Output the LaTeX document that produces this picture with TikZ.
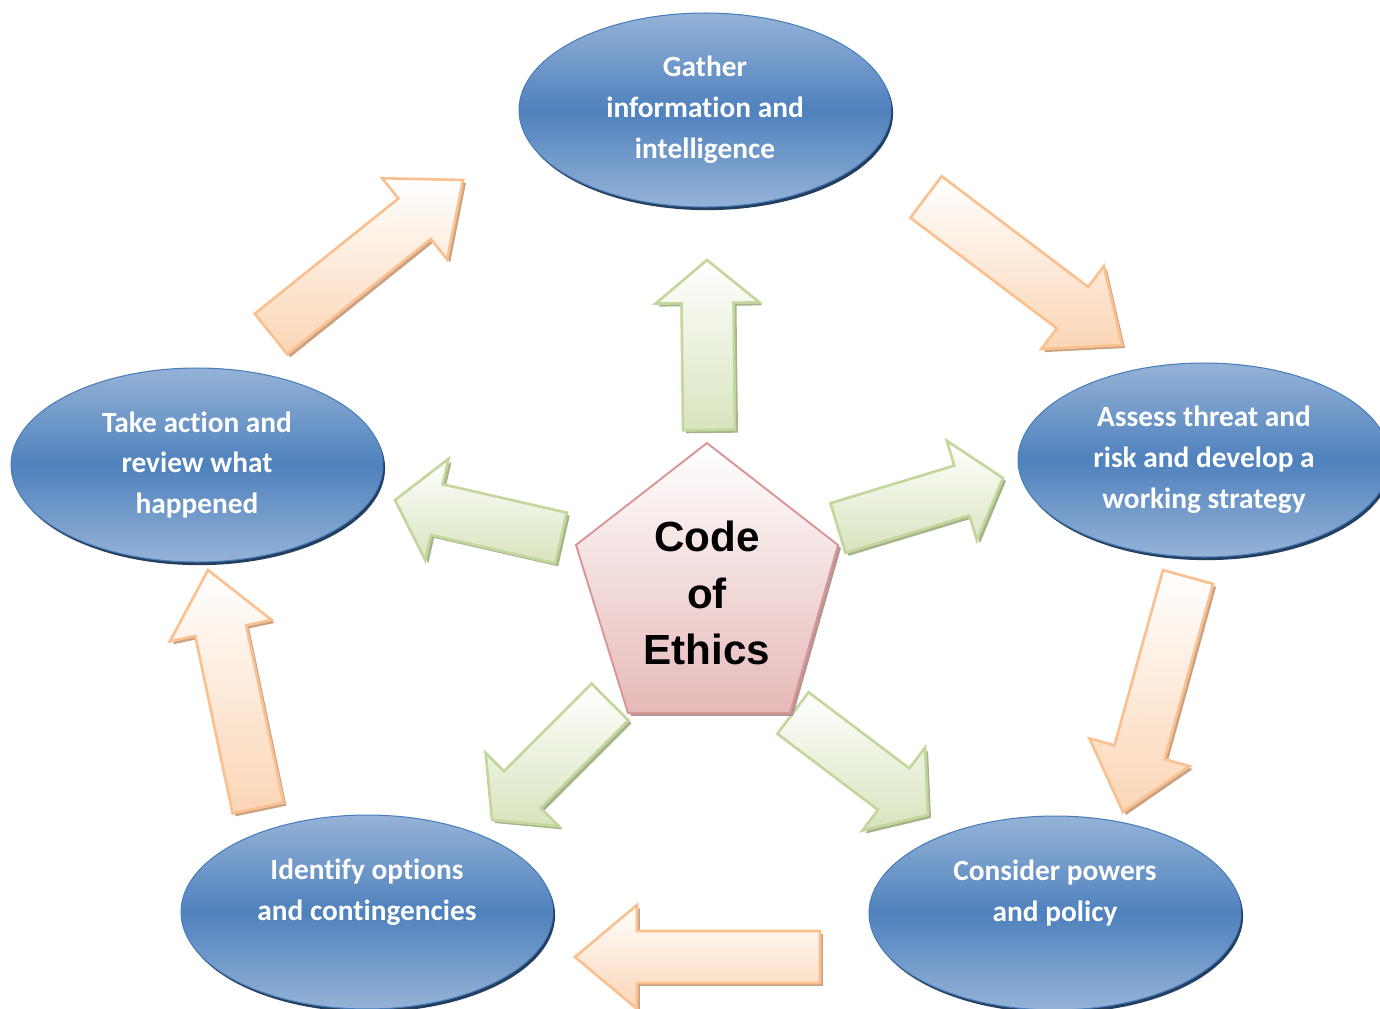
\documentclass[tikz,border=0pt]{standalone}
\usepackage{fontspec}
\newfontfamily\stagefont{Carlito}[Ligatures=NoCommon]
\newfontfamily\codefont{Liberation Sans}
\usetikzlibrary{shapes.geometric,shadows,calc}

\definecolor{stageblue}{HTML}{4F81BD}
\definecolor{stagelight}{HTML}{95B3D7}
\definecolor{stageedge}{HTML}{4A7EBB}
\definecolor{stageshade}{HTML}{243F60}
\definecolor{codepink}{HTML}{E6B9B8}
\definecolor{codeedge}{HTML}{D99694}
\definecolor{codeshade}{HTML}{B59696}
\definecolor{grnfill}{HTML}{D7E4BD}
\definecolor{grnedge}{HTML}{C3D69B}
\definecolor{grnshade}{HTML}{A4B38C}
\definecolor{orgfill}{HTML}{FBD5B5}
\definecolor{orgedge}{HTML}{FAC090}
\definecolor{orgshade}{HTML}{C9A283}
\def\pxl{0.02cm}

\begin{document}
\begin{tikzpicture}[x=0.02cm, y=-0.02cm,
  stagetext/.style={text=white, align=center, font=\stagefont\bfseries\fontsize{16.7}{23.3}\selectfont},
  stage/.style={ellipse, minimum width=7.44cm, minimum height=3.88cm, inner sep=0pt, stagetext,
    draw=stageedge, line width=0.6pt, top color=stagelight, bottom color=stagelight, middle color=stageblue,
    drop shadow={fill=stageshade, opacity=1, shadow xshift=1.2pt, shadow yshift=-1.8pt}},
  grnarrow/.style={draw=grnedge, line width=1.5pt, top color=white, bottom color=grnfill,
    drop shadow={fill=grnshade, opacity=1, shadow xshift=1.7pt, shadow yshift=-1.7pt}},
  orgarrow/.style={draw=orgedge, line width=1.5pt, top color=white, bottom color=orgfill,
    drop shadow={fill=orgshade, opacity=1, shadow xshift=1.7pt, shadow yshift=-1.7pt}},
  codebox/.style={draw=codeedge, line width=1.1pt, top color=white, bottom color=codepink,
    drop shadow={fill=codeshade, opacity=1, shadow xshift=1.7pt, shadow yshift=-1.7pt}}]
\useasboundingbox (0,0) rectangle (1380,1008);
\clip (0,0) rectangle (1380,1008);

% the five stages
\node[stage] (gather) at (705,110) {Gather\\information and\\intelligence};
\node[stage] (assess) at (1204,460) {Assess threat and\\risk and develop a\\working strategy};
\node[stage] (consider) at (1055,913) {};
\node[stagetext] at ([yshift=0.40cm]consider.center) {Consider powers\\and policy};
\node[stage] (identify) at (367,912) {};
\node[stagetext] at ([yshift=0.40cm]identify.center) {Identify options\\and contingencies};
\node[stage] (review) at (197,465) {Take action and\\review what\\happened};

% cycle arrows
\foreach \sx/\sy/\ex/\ey in {271/334/463/180, 926/197/1122/345, 1188/577/1123/812, 820/957/575/957, 258/808/208/570}{
  \coordinate (tail) at (\sx,\sy);
  \coordinate (tip) at (\ex,\ey);
  \coordinate (neck) at ($(tip)!62*\pxl!(tail)$);
  \path[orgarrow] ($(tail)!26*\pxl!90:(tip)$) -- ($(neck)!26*\pxl!90:(tip)$) -- ($(neck)!52*\pxl!90:(tip)$)
    -- (tip) -- ($(neck)!52*\pxl!-90:(tip)$) -- ($(neck)!26*\pxl!-90:(tip)$) -- ($(tail)!26*\pxl!-90:(tip)$) -- cycle;
}

% arrows out of the code
\foreach \sx/\sy/\ex/\ey in {709/430/707/260, 838/528/1003/478, 793/713/928/815, 610/702/492/820, 561/538/395/500}{
  \coordinate (tail) at (\sx,\sy);
  \coordinate (tip) at (\ex,\ey);
  \coordinate (neck) at ($(tip)!43*\pxl!(tail)$);
  \path[grnarrow] ($(tail)!26*\pxl!90:(tip)$) -- ($(neck)!26*\pxl!90:(tip)$) -- ($(neck)!52*\pxl!90:(tip)$)
    -- (tip) -- ($(neck)!52*\pxl!-90:(tip)$) -- ($(neck)!26*\pxl!-90:(tip)$) -- ($(tail)!26*\pxl!-90:(tip)$) -- cycle;
}

% code of ethics
\path[codebox] (707,443) -- (838,545) -- (790,713) -- (628,713) -- (576,545) -- cycle;
\node[font=\codefont\bfseries\fontsize{24}{32.3}\selectfont, align=center] (code) at (707,593) {Code\\of\\Ethics};
\end{tikzpicture}
\end{document}
